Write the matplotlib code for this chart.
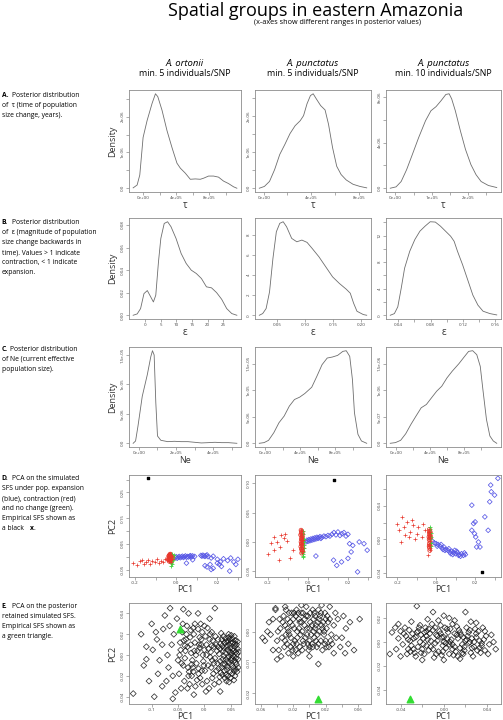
import matplotlib
matplotlib.use('Agg')
import matplotlib.pyplot as plt
import numpy as np

plt.rcParams['font.family'] = ['Open Sans', 'DejaVu Sans']

W, H = 503, 720

# ---------------- data ----------------
# row A: posterior of tau
tau_ort_x = [-1.2e5, -0.72e5, -0.40e5, 0.0, 0.48e5, 1.08e5, 1.49e5, 1.77e5, 2.28e5, 2.88e5,
             3.49e5, 4.08e5, 4.49e5, 5.09e5, 5.69e5, 6.29e5, 6.89e5, 7.29e5, 7.89e5, 8.49e5,
             9.09e5, 9.69e5, 1.03e6, 1.09e6, 1.13e6]
tau_ort_y = [0.01e-6, 0.09e-6, 0.37e-6, 1.42e-6, 1.89e-6, 2.37e-6, 2.64e-6, 2.56e-6, 2.18e-6, 1.61e-6,
             1.13e-6, 0.70e-6, 0.56e-6, 0.42e-6, 0.25e-6, 0.26e-6, 0.25e-6, 0.28e-6, 0.34e-6, 0.34e-6,
             0.31e-6, 0.20e-6, 0.13e-6, 0.04e-6, 0.0]
tau_p5_x = [-0.37e5, 0.06e5, 0.49e5, 0.92e5, 1.35e5, 1.78e5, 2.21e5, 2.64e5, 3.07e5, 3.35e5,
            3.64e5, 3.93e5, 4.16e5, 4.42e5, 4.79e5, 5.16e5, 5.45e5, 5.79e5, 6.14e5, 6.51e5,
            6.94e5, 7.51e5, 8.09e5, 8.66e5]
tau_p5_y = [0.0, 0.05e-6, 0.19e-6, 0.52e-6, 0.94e-6, 1.22e-6, 1.52e-6, 1.74e-6, 1.88e-6, 2.02e-6,
            2.35e-6, 2.58e-6, 2.63e-6, 2.49e-6, 2.30e-6, 2.18e-6, 1.78e-6, 1.13e-6, 0.61e-6, 0.38e-6,
            0.23e-6, 0.11e-6, 0.05e-6, 0.01e-6]
tau_p10_x = [-0.14e5, 0.02e5, 0.16e5, 0.31e5, 0.45e5, 0.64e5, 0.83e5, 0.98e5, 1.12e5, 1.26e5,
             1.39e5, 1.48e5, 1.55e5, 1.65e5, 1.79e5, 1.93e5, 2.08e5, 2.22e5, 2.36e5, 2.56e5, 2.79e5]
tau_p10_y = [0.0, 0.12e-6, 0.59e-6, 1.63e-6, 2.81e-6, 4.44e-6, 5.93e-6, 6.81e-6, 7.17e-6, 7.70e-6,
             8.24e-6, 8.30e-6, 7.85e-6, 6.81e-6, 5.04e-6, 3.41e-6, 2.07e-6, 1.19e-6, 0.59e-6, 0.24e-6, 0.06e-6]

# row B: posterior of epsilon
eps_ort_x = [-3.77, -2.48, -1.40, -0.32, 0.75, 1.83, 2.69, 3.45, 4.31, 5.06, 6.14, 7.22, 8.30,
             9.91, 11.53, 13.15, 14.76, 16.38, 18.00, 19.61, 21.23, 22.84, 24.46, 26.08, 27.69, 29.31]
eps_ort_y = [0.0, 0.0012, 0.0059, 0.0192, 0.0219, 0.0163, 0.0118, 0.0178, 0.0474, 0.0681, 0.0814,
             0.0829, 0.0785, 0.0681, 0.0548, 0.0459, 0.0400, 0.0370, 0.0326, 0.0252, 0.0243, 0.0201,
             0.0142, 0.0059, 0.0015, 0.0]
eps_p5_x = [0.0183, 0.0244, 0.0305, 0.0366, 0.0427, 0.0488, 0.0549, 0.0610, 0.0671, 0.0762, 0.0854,
            0.0945, 0.1037, 0.1128, 0.1250, 0.1372, 0.1494, 0.1616, 0.1738, 0.1810, 0.1870, 0.1930,
            0.2043, 0.2104]
eps_p5_y = [0.0, 0.17, 0.67, 2.33, 5.67, 8.33, 9.17, 9.33, 8.83, 7.67, 7.33, 7.50, 7.27, 6.67, 5.83,
            4.83, 3.83, 3.17, 2.60, 2.20, 1.20, 0.40, 0.07, 0.0]
eps_p10_x = [0.0303, 0.0354, 0.0396, 0.0438, 0.0480, 0.0543, 0.0606, 0.0669, 0.0733, 0.0796, 0.0859,
             0.0922, 0.0985, 0.1048, 0.1091, 0.1133, 0.1196, 0.1259, 0.1322, 0.1385, 0.1448, 0.1533, 0.1617]
eps_p10_y = [0.0, 0.25, 1.27, 4.05, 7.09, 9.62, 11.39, 12.66, 13.42, 14.08, 14.03, 13.42, 12.66, 11.90,
             11.14, 9.62, 7.59, 5.32, 3.04, 1.52, 0.61, 0.25, 0.05]

# row C: posterior of Ne
ne_ort_x = [-0.31e5, -0.18e5, -0.05e5, 0.18e5, 0.45e5, 0.64e5, 0.73e5, 0.82e5, 0.91e5, 1.0e5, 1.18e5,
            1.55e5, 1.91e5, 2.27e5, 2.64e5, 3.0e5, 3.36e5, 3.73e5, 4.09e5, 4.45e5, 4.82e5, 5.27e5]
ne_ort_y = [0.0, 0.39e-6, 2.92e-6, 7.98e-6, 11.63e-6, 14.72e-6, 15.73e-6, 15.0e-6, 6.85e-6, 1.24e-6,
            0.51e-6, 0.28e-6, 0.34e-6, 0.28e-6, 0.28e-6, 0.17e-6, 0.06e-6, 0.11e-6, 0.17e-6, 0.11e-6,
            0.11e-6, 0.0]
ne_p5_x = [-0.67e5, -0.12e5, 0.39e5, 0.99e5, 1.58e5, 2.17e5, 2.76e5, 3.35e5, 3.94e5, 4.53e5, 5.32e5,
           5.91e5, 6.50e5, 7.09e5, 7.68e5, 8.28e5, 8.87e5, 9.26e5, 9.66e5, 9.97e5, 1.02e6, 1.06e6,
           1.10e6, 1.16e6]
ne_p5_y = [0.0, 0.13e-6, 0.56e-6, 2.0e-6, 3.88e-6, 5.13e-6, 7.0e-6, 8.25e-6, 8.69e-6, 9.38e-6, 10.56e-6,
           12.63e-6, 14.81e-6, 16.06e-6, 16.25e-6, 16.56e-6, 17.31e-6, 17.44e-6, 16.38e-6, 12.0e-6,
           5.75e-6, 1.69e-6, 0.44e-6, 0.0]
ne_p10_x = [-0.69e5, -0.08e5, 0.53e5, 1.13e5, 1.74e5, 2.34e5, 2.95e5, 3.56e5, 4.16e5, 4.77e5, 5.37e5,
            5.98e5, 6.59e5, 7.39e5, 8.0e5, 8.53e5, 9.01e5, 9.49e5, 9.9e5, 1.022e6, 1.063e6, 1.103e6,
            1.143e6, 1.184e6]
ne_p10_y = [0.0, 0.013e-6, 0.056e-6, 0.18e-6, 0.356e-6, 0.513e-6, 0.669e-6, 0.731e-6, 0.856e-6,
            0.981e-6, 1.075e-6, 1.231e-6, 1.356e-6, 1.5e-6, 1.625e-6, 1.731e-6, 1.744e-6, 1.669e-6,
            1.45e-6, 1.0e-6, 0.45e-6, 0.138e-6, 0.044e-6, 0.0]

# row D: PCA of simulated SFS (PC1, PC2)
d1_red = [(-0.21, -0.025), (-0.19, -0.033), (-0.175, -0.018), (-0.165, -0.012), (-0.155, -0.03),
          (-0.145, -0.02), (-0.135, -0.012), (-0.125, -0.028), (-0.115, -0.016), (-0.105, -0.022),
          (-0.095, -0.01), (-0.085, -0.025), (-0.075, -0.015), (-0.065, -0.02), (-0.055, -0.008)]
d1_red_core = [(-0.035, -0.005), (-0.03, 0.0), (-0.025, -0.01), (-0.032, 0.005), (-0.028, -0.015),
               (-0.022, -0.003), (-0.038, -0.012), (-0.026, 0.007), (-0.033, -0.018), (-0.02, 0.002),
               (-0.03, -0.007), (-0.024, -0.02), (-0.036, 0.002), (-0.028, 0.01), (-0.018, -0.008),
               (-0.034, -0.009), (-0.027, -0.004), (-0.031, 0.008), (-0.023, -0.014), (-0.029, 0.003)]
d1_green = [(-0.025, -0.025), (-0.02, -0.03), (-0.022, 0.012), (-0.018, -0.018), (-0.015, 0.0),
            (-0.02, 0.008), (-0.016, -0.012), (-0.024, -0.035), (-0.012, 0.005), (-0.019, -0.005)]
d1_blue = [(-0.005, -0.004), (0.0, 0.0), (0.005, -0.006), (0.01, -0.002), (0.015, 0.001), (0.02, -0.004),
           (0.025, -0.001), (0.03, 0.002), (0.035, -0.003), (0.04, 0.0), (0.045, 0.003), (0.05, -0.002),
           (0.055, 0.001), (0.06, -0.001), (0.065, 0.002), (0.07, 0.004), (0.075, -0.001), (0.08, 0.003),
           (0.09, 0.001), (0.12, 0.005), (0.125, 0.002), (0.13, 0.006), (0.135, 0.003), (0.14, 0.001),
           (0.145, 0.004), (0.15, 0.007), (0.155, 0.0), (0.17, -0.005), (0.18, 0.002), (0.2, -0.01),
           (0.215, -0.02), (0.23, -0.008), (0.25, -0.015), (0.265, -0.005), (0.28, -0.02), (0.3, -0.01),
           (0.14, -0.035), (0.15, -0.04), (0.165, -0.03), (0.18, -0.045), (0.2, -0.025), (0.22, -0.038),
           (0.26, -0.056), (0.17, -0.05), (0.05, -0.025), (0.21, -0.03), (0.29, -0.03), (0.08, -0.012)]
d1_emp = (-0.138, 0.305)

d2_red = [(-0.2, -0.02), (-0.184, -0.002), (-0.168, 0.0085), (-0.155, 0.0), (-0.139, -0.0085),
          (-0.12, 0.006), (-0.104, 0.002), (-0.168, -0.014), (-0.144, -0.03), (-0.088, -0.028),
          (-0.075, -0.014), (-0.112, 0.013), (-0.136, 0.011)]
d2_red_core = [(-0.034, 0.0), (-0.03, 0.008), (-0.028, -0.006), (-0.032, -0.012), (-0.026, 0.003),
               (-0.036, 0.012), (-0.03, -0.002), (-0.027, 0.014), (-0.033, 0.005), (-0.029, -0.015),
               (-0.031, 0.018), (-0.035, -0.008), (-0.025, -0.01), (-0.028, 0.01), (-0.034, 0.02),
               (-0.032, -0.004), (-0.029, 0.004), (-0.026, -0.016), (-0.033, 0.015), (-0.031, -0.019)]
d2_green = [(-0.025, -0.02), (-0.022, -0.024), (-0.02, 0.005), (-0.023, 0.013), (-0.021, -0.01),
            (-0.024, -0.017), (-0.019, 0.0), (-0.022, 0.018), (-0.026, -0.025), (-0.02, -0.005)]
d2_blue = [(-0.01, 0.0), (-0.005, 0.003), (0.0, 0.001), (0.005, 0.004), (0.01, 0.002), (0.015, 0.005),
           (0.02, 0.003), (0.025, 0.006), (0.03, 0.004), (0.035, 0.007), (0.04, 0.005), (0.045, 0.008),
           (0.05, 0.006), (0.055, 0.007), (0.06, 0.009), (0.065, 0.006), (0.07, 0.008), (0.08, 0.01),
           (0.09, 0.009), (0.1, 0.011), (0.11, 0.01), (0.12, 0.013), (0.13, 0.016), (0.14, 0.012),
           (0.15, 0.017), (0.16, 0.011), (0.17, 0.014), (0.18, 0.016), (0.19, 0.01), (0.2, 0.013),
           (0.208, -0.003), (0.224, -0.006), (0.256, 0.0), (0.28, -0.003), (0.296, -0.014),
           (0.128, -0.031), (0.144, -0.04), (0.2, -0.028), (0.216, -0.017), (0.248, -0.051),
           (0.04, -0.024), (0.168, -0.034)]
d2_emp = (0.131, 0.106)

d3_red = [(-0.2, 0.019), (-0.175, 0.027), (-0.192, 0.011), (-0.167, 0.015), (-0.15, 0.021),
          (-0.133, 0.009), (-0.142, 0.003), (-0.117, 0.017), (-0.1, 0.007), (-0.092, 0.015),
          (-0.075, 0.003), (-0.183, -0.003), (-0.158, 0.005), (-0.108, 0.001), (-0.058, 0.011),
          (-0.067, 0.019), (-0.042, -0.019), (-0.125, 0.023)]
d3_red_core = [(-0.036, 0.0), (-0.033, 0.005), (-0.035, -0.005), (-0.031, 0.009), (-0.034, -0.01),
               (-0.037, 0.003), (-0.032, -0.002), (-0.035, 0.012), (-0.033, -0.013), (-0.03, 0.002),
               (-0.036, -0.008), (-0.034, 0.007), (-0.032, -0.007), (-0.035, 0.009), (-0.031, 0.004)]
d3_green = [(-0.03, 0.012), (-0.028, 0.008), (-0.029, -0.004), (-0.027, 0.003), (-0.031, 0.015),
            (-0.028, -0.008), (-0.03, 0.0)]
d3_blue = [(-0.02, -0.002), (-0.01, -0.004), (0.0, -0.005), (0.01, -0.006), (0.02, -0.008), (0.03, -0.01),
           (0.04, -0.009), (0.05, -0.012), (0.06, -0.013), (0.07, -0.015), (0.08, -0.014), (0.09, -0.016),
           (0.1, -0.017), (0.11, -0.016), (0.12, -0.018), (0.13, -0.017), (0.14, -0.019), (0.15, -0.018),
           (0.005, -0.008), (0.025, -0.006), (0.045, -0.013), (0.065, -0.011), (0.085, -0.018),
           (0.105, -0.014), (0.125, -0.02), (0.145, -0.016), (0.035, -0.012), (0.075, -0.017),
           (0.115, -0.019), (0.095, -0.013),
           (0.183, 0.011), (0.197, 0.007), (0.203, 0.003), (0.192, 0.019), (0.183, 0.041), (0.208, -0.009),
           (0.225, -0.009), (0.25, 0.027), (0.275, 0.045), (0.267, 0.011), (0.283, 0.057), (0.3, 0.053),
           (0.317, 0.073), (0.28, 0.065), (0.2, 0.021), (0.217, -0.003)]
d3_emp = (0.233, -0.0388)

# row E: PCA of posterior retained SFS (PC1, PC2)
e1_cloud = [(0.050, 0.000), (0.055, 0.004), (0.060, -0.003), (0.045, -0.006), (0.052, -0.010), (0.058, 0.008),
            (0.040, 0.002), (0.047, 0.010), (0.062, 0.001), (0.035, -0.004), (0.043, -0.014), (0.056, -0.015),
            (0.030, 0.006), (0.038, 0.012), (0.025, -0.008), (0.033, -0.012), (0.048, 0.015), (0.061, -0.009),
            (0.054, 0.012), (0.028, 0.001), (0.041, -0.019), (0.050, -0.022), (0.036, 0.018), (0.022, 0.010),
            (0.063, 0.006), (0.044, 0.005), (0.057, -0.005), (0.031, -0.017), (0.046, -0.002), (0.053, -0.018),
            (0.020, -0.003), (0.039, -0.009), (0.059, 0.014), (0.026, 0.015), (0.049, 0.007), (0.064, -0.012),
            (0.034, 0.009), (0.042, -0.025), (0.051, 0.019), (0.029, -0.021), (0.055, -0.001), (0.047, -0.008),
            (0.060, 0.003), (0.037, -0.001), (0.045, 0.013), (0.024, 0.004), (0.058, -0.020), (0.032, 0.021),
            (0.052, 0.002), (0.040, 0.016),
            (0.044, -0.011), (0.058, 0.011), (0.036, 0.004), (0.062, -0.016), (0.049, -0.016), (0.027, -0.013),
            (0.053, 0.016), (0.039, -0.022), (0.065, 0.003), (0.033, 0.015), (0.046, 0.020), (0.056, -0.024),
            (0.030, -0.006), (0.043, 0.008), (0.061, 0.010), (0.051, -0.005), (0.037, 0.007), (0.023, -0.015),
            (0.048, 0.003), (0.059, -0.007), (0.041, -0.004), (0.054, 0.006), (0.034, -0.019), (0.064, -0.004),
            (0.026, 0.008), (0.045, -0.020), (0.057, 0.018), (0.031, 0.011), (0.050, 0.012), (0.038, -0.015),
            (0.063, 0.013), (0.047, -0.026), (0.021, 0.018), (0.055, -0.012), (0.042, 0.013), (0.060, -0.014),
            (0.035, -0.009), (0.052, -0.003), (0.028, -0.026), (0.046, 0.017),
            (-0.045, 0.005), (-0.040, -0.010), (-0.035, 0.015), (-0.030, -0.020), (-0.025, 0.002), (-0.020, 0.020),
            (-0.015, -0.008), (-0.010, 0.010), (-0.005, -0.015), (0.000, 0.005), (0.005, -0.025), (0.010, 0.015),
            (0.015, -0.005), (-0.048, -0.018), (-0.042, 0.022), (-0.037, -0.003), (-0.032, 0.008), (-0.028, -0.028),
            (-0.022, -0.012), (-0.018, 0.012), (-0.012, 0.025), (-0.008, -0.022), (-0.003, 0.000), (0.002, 0.018),
            (0.007, -0.010), (0.012, 0.003), (0.017, -0.018), (-0.046, 0.012), (-0.038, -0.025), (-0.033, 0.028),
            (-0.027, 0.017), (-0.023, -0.005), (-0.017, -0.030), (-0.013, 0.004), (-0.007, 0.030), (-0.002, -0.006),
            (0.004, 0.010), (0.009, -0.032), (0.014, 0.022), (0.018, 0.008), (-0.050, -0.005), (-0.044, -0.032),
            (-0.031, -0.012), (-0.026, 0.010), (-0.016, 0.000), (-0.011, -0.018), (-0.006, 0.015), (0.001, -0.015),
            (0.006, 0.026), (0.011, -0.002), (0.016, 0.014), (0.019, -0.028), (-0.036, 0.004), (-0.021, 0.026),
            (-0.009, 0.007), (0.003, -0.035), (0.013, -0.012), (-0.041, 0.030), (-0.024, -0.020), (-0.004, 0.022),
            (-0.043, -0.008), (-0.034, 0.020), (-0.029, -0.016), (-0.019, 0.004), (-0.014, -0.024), (-0.009, 0.017),
            (-0.001, -0.010), (0.008, 0.006), (0.015, -0.022), (-0.047, 0.000), (-0.039, 0.014), (-0.024, -0.009),
            (-0.018, 0.030), (-0.004, -0.028), (0.004, 0.000), (0.011, 0.020), (-0.032, -0.032), (-0.026, 0.024),
            (-0.011, -0.013), (0.018, -0.008), (-0.037, 0.009), (-0.006, 0.010), (0.000, 0.028), (-0.021, -0.016),
            (0.014, 0.009),
            (-0.135, -0.037), (-0.120, 0.020), (-0.115, -0.010), (-0.110, 0.008), (-0.105, -0.025), (-0.100, 0.030),
            (-0.095, -0.040), (-0.090, 0.015), (-0.085, -0.005), (-0.080, -0.030), (-0.075, 0.038), (-0.070, 0.000),
            (-0.065, 0.045), (-0.060, -0.020), (-0.058, 0.020), (-0.055, -0.036), (-0.052, 0.035), (-0.062, 0.010),
            (-0.068, -0.012), (-0.078, 0.025), (-0.088, -0.018), (-0.098, 0.005), (-0.012, 0.040), (0.010, 0.035),
            (-0.030, 0.040), (0.020, 0.045), (-0.020, -0.038), (0.030, -0.035), (-0.040, 0.044), (-0.060, -0.042),
            (-0.080, 0.010), (-0.072, -0.025), (-0.092, 0.022), (-0.110, -0.004), (-0.066, 0.028)]
e1_emp = (-0.047, 0.025)

e2_cloud = [(-0.030, 0.002), (-0.025, -0.001), (-0.020, 0.004), (-0.015, 0.000), (-0.010, 0.003), (-0.005, -0.002),
            (0.000, 0.001), (0.005, 0.004), (0.010, -0.001), (0.015, 0.002), (0.020, -0.003), (-0.028, -0.004),
            (-0.022, 0.006), (-0.018, -0.003), (-0.012, -0.005), (-0.008, 0.006), (-0.002, 0.005), (0.003, -0.004),
            (0.008, 0.002), (0.013, 0.005), (0.018, -0.001), (0.023, 0.003), (-0.032, 0.005), (-0.027, 0.001),
            (-0.021, -0.006), (-0.016, 0.007), (-0.011, -0.001), (-0.006, 0.002), (-0.001, -0.006), (0.004, 0.007),
            (0.009, -0.005), (0.014, -0.003), (0.019, 0.006), (0.024, -0.005), (-0.034, -0.002), (-0.029, 0.007),
            (-0.024, 0.003), (-0.019, 0.001), (-0.014, -0.007), (-0.009, 0.000), (-0.004, 0.008), (0.001, 0.003),
            (0.006, -0.002), (0.011, 0.007), (0.016, -0.006), (0.021, 0.001), (-0.026, -0.007), (-0.017, 0.005),
            (-0.007, -0.004), (0.002, -0.001), (0.012, 0.000), (0.022, 0.005), (-0.031, -0.005), (-0.023, -0.002),
            (-0.013, 0.004), (-0.003, 0.001), (0.007, 0.005), (0.017, 0.003), (0.027, -0.001), (-0.020, -0.004),
            (-0.010, 0.006), (0.000, -0.003), (0.010, 0.003), (-0.036, 0.001), (0.030, 0.002), (0.028, -0.004),
            (-0.015, -0.002), (0.005, 0.000),
            (-0.027, 0.004), (-0.023, -0.005), (-0.019, 0.006), (-0.016, -0.004), (-0.013, 0.001), (-0.009, -0.006),
            (-0.006, 0.004), (-0.003, -0.001), (0.001, 0.006), (0.004, -0.005), (0.007, 0.001), (0.011, -0.004),
            (0.014, 0.006), (0.018, 0.000), (0.021, -0.005), (0.025, 0.004), (-0.033, 0.003), (-0.029, -0.001),
            (-0.025, 0.006), (-0.021, 0.002), (-0.017, -0.006), (-0.012, 0.003), (-0.008, -0.003), (-0.004, 0.005),
            (0.000, -0.005), (0.003, 0.002), (0.008, -0.003), (0.012, 0.004), (0.016, 0.001), (0.020, 0.004),
            (0.026, -0.003), (-0.030, -0.003), (-0.026, 0.000), (-0.014, 0.006), (-0.002, -0.004), (0.006, 0.006),
            (0.019, -0.004), (-0.037, 0.004), (0.033, -0.002), (-0.039, 0.000),
            (-0.045, 0.004), (-0.040, -0.003), (-0.042, 0.007), (-0.038, -0.006), (0.035, 0.004), (0.040, -0.002),
            (0.032, 0.006), (0.038, -0.005), (0.045, 0.001), (0.042, 0.005), (-0.048, -0.001), (0.048, -0.004),
            (-0.055, -0.003), (-0.058, -0.002), (-0.050, 0.003), (-0.045, -0.006), (-0.040, -0.009), (0.011, -0.0105),
            (0.055, -0.006), (0.062, 0.004), (-0.042, 0.0075), (-0.035, -0.008), (0.030, -0.007), (0.025, 0.008),
            (-0.010, 0.0085), (0.000, -0.008), (-0.030, 0.008), (0.015, 0.0085), (-0.020, -0.008), (0.050, 0.003),
            (-0.052, 0.0), (0.044, -0.007)]
e2_emp = (0.011, -0.0219)

e3_cloud = [(-0.035, 0.005), (-0.030, -0.003), (-0.025, 0.008), (-0.020, -0.006), (-0.015, 0.002), (-0.010, 0.010),
            (-0.005, -0.008), (0.000, 0.004), (0.005, -0.002), (0.010, 0.007), (0.015, -0.005), (0.020, 0.001),
            (0.025, -0.009), (0.030, 0.004), (0.035, -0.003), (-0.032, 0.010), (-0.027, -0.009), (-0.022, 0.000),
            (-0.017, 0.012), (-0.012, -0.004), (-0.007, 0.006), (-0.002, -0.011), (0.003, 0.011), (0.008, -0.006),
            (0.013, 0.003), (0.018, -0.010), (0.023, 0.008), (0.028, -0.004), (0.033, 0.001), (0.038, -0.007),
            (-0.038, -0.002), (-0.033, -0.006), (-0.028, 0.003), (-0.023, 0.012), (-0.018, -0.010), (-0.013, 0.007),
            (-0.008, -0.001), (-0.003, 0.014), (0.002, -0.005), (0.007, 0.002), (0.012, 0.013), (0.017, -0.002),
            (0.022, 0.005), (0.027, -0.012), (0.032, 0.009), (0.037, 0.002), (-0.036, 0.012), (-0.031, 0.001),
            (-0.026, -0.012), (-0.021, 0.006), (-0.016, -0.003), (-0.011, 0.015), (-0.006, 0.001), (-0.001, -0.003),
            (0.004, 0.008), (0.009, -0.011), (0.014, 0.010), (0.019, -0.007), (0.024, 0.000), (0.029, 0.011),
            (0.034, -0.009), (0.039, 0.005), (-0.024, -0.004), (-0.014, -0.007), (-0.004, 0.009), (0.006, 0.000),
            (0.016, 0.006), (0.026, 0.003), (-0.029, 0.007), (-0.019, 0.003), (-0.009, -0.013), (0.001, 0.012),
            (0.011, -0.008), (0.021, 0.012), (0.031, -0.007), (-0.034, -0.010), (-0.002, 0.004), (0.008, 0.015),
            (-0.016, 0.009), (0.018, 0.004),
            (-0.033, 0.002), (-0.028, -0.006), (-0.024, 0.009), (-0.019, -0.002), (-0.014, 0.011), (-0.010, -0.006),
            (-0.006, 0.005), (-0.001, -0.008), (0.003, 0.003), (0.008, -0.002), (0.012, 0.006), (0.017, -0.009),
            (0.021, 0.002), (0.026, -0.005), (0.030, 0.007), (0.035, -0.001), (-0.037, 0.007), (-0.031, -0.008),
            (-0.026, 0.004), (-0.021, -0.009), (-0.016, 0.005), (-0.012, 0.001), (-0.007, -0.010), (-0.003, 0.007),
            (0.002, -0.001), (0.006, 0.011), (0.010, -0.004), (0.015, 0.008), (0.019, -0.004), (0.024, 0.010),
            (0.028, 0.000), (0.033, -0.005), (0.038, 0.009), (-0.022, 0.014), (-0.008, 0.012), (0.005, -0.010),
            (0.013, -0.012), (0.023, -0.001), (-0.018, 0.008), (0.000, 0.000),
            (-0.042, 0.003), (-0.044, -0.006), (-0.040, 0.009), (0.042, -0.002), (0.044, 0.006), (0.041, -0.010),
            (-0.048, 0.008), (-0.050, -0.010), (-0.045, 0.012), (0.046, 0.000), (0.048, -0.006), (-0.025, 0.030),
            (0.020, 0.025), (-0.010, 0.025), (0.005, 0.020), (-0.015, 0.019), (0.010, 0.018), (0.030, 0.016),
            (-0.030, 0.017), (-0.020, -0.015), (0.000, -0.015), (0.015, -0.014), (-0.005, 0.018), (0.025, 0.017),
            (0.036, 0.012), (-0.040, -0.012), (0.000, 0.022), (-0.042, 0.015)]
e3_emp = (-0.031, -0.048)

# column headers and row descriptions
species = ['A. ortonii', 'A. punctatus', 'A. punctatus']
filters = ['min. 5 individuals/SNP', 'min. 5 individuals/SNP', 'min. 10 individuals/SNP']
row_tags = ['A.', 'B.', 'C.', 'D.', 'E.']
row_text = [
    ['Posterior distribution', 'of  \u03c4 (time of population', 'size change, years).'],
    ['Posterior distribution', 'of  \u03b5 (magnitude of population', 'size change backwards in',
     'time). Values > 1 indicate', 'contraction, < 1 indicate', 'expansion.'],
    ['Posterior distribution', 'of Ne (current effective', 'population size).'],
    ['PCA on the simulated', 'SFS under pop. expansion', '(blue), contraction (red)',
     'and no change (green).', 'Empirical SFS shown as', 'a black'],
    ['PCA on the posterior', 'retained simulated SFS.', 'Empirical SFS shown as', 'a green triangle.'],
]
row_text_y = [95.7, 222.7, 349.3, 479, 606]

# ---------------- layout ----------------
col_px = [(129, 241), (255, 371), (386, 501)]
row_px = [(90, 192), (218, 319), (347, 447), (475, 577), (603, 704)]

LINE = '#6e6e6e'
FRAME = '#8c8c8c'
TICKTXT = '#444444'

fig = plt.figure(figsize=(W / 100, H / 100), dpi=100)


def fx(px):
    return px / W


def fy(py):
    return 1 - py / H


def make_ax(row, col):
    l, r = col_px[col]
    t, b = row_px[row]
    ax = fig.add_axes([fx(l), fy(b), (r - l) / W, (b - t) / H])
    for s in ax.spines.values():
        s.set_color(FRAME)
        s.set_linewidth(0.6)
    ax.tick_params(direction='out', length=2, width=0.5, color=FRAME,
                   labelsize=3.2, labelcolor=TICKTXT, pad=0.9)
    return ax


def set_ticks(ax, xt, xl, yt, yl):
    ax.set_xticks(xt)
    ax.set_xticklabels(xl)
    ax.set_yticks(yt)
    ax.set_yticklabels(yl, rotation=90, va='center')


def xlab(row, col, s, size=6.5, off=13):
    l, r = col_px[col]
    fig.text(fx((l + r) / 2), fy(row_px[row][1] + off), s, ha='center', va='center',
             fontsize=size, color='#333333')


def ylab(row, s):
    t, b = row_px[row]
    fig.text(fx(113), fy((t + b) / 2), s, ha='center', va='center', rotation=90,
             fontsize=6.5, color='#333333')


# density rows
dens = [
    [(tau_ort_x, tau_ort_y), (tau_p5_x, tau_p5_y), (tau_p10_x, tau_p10_y)],
    [(eps_ort_x, eps_ort_y), (eps_p5_x, eps_p5_y), (eps_p10_x, eps_p10_y)],
    [(ne_ort_x, ne_ort_y), (ne_p5_x, ne_p5_y), (ne_p10_x, ne_p10_y)],
]
dens_ticks = [
    [([0, 2e5, 4e5, 6e5, 8e5, 1e6], ['0e+00', '', '4e+05', '', '8e+05', ''],
      [0, 0.5e-6, 1e-6, 1.5e-6, 2e-6, 2.5e-6], ['0.0', '', '1e-06', '', '2e-06', '']),
     ([0, 2e5, 4e5, 6e5, 8e5], ['0e+00', '', '4e+05', '', '8e+05'],
      [0, 0.5e-6, 1e-6, 1.5e-6, 2e-6, 2.5e-6], ['0.0', '', '1e-06', '', '2e-06', '']),
     ([0, 0.5e5, 1e5, 1.5e5, 2e5, 2.5e5], ['0e+00', '', '1e+05', '', '2e+05', ''],
      [0, 2e-6, 4e-6, 6e-6, 8e-6], ['0.0', '', '4e-06', '', '8e-06'])],
    [([0, 5, 10, 15, 20, 25], ['0', '5', '10', '15', '20', '25'],
      [0, 0.02, 0.04, 0.06, 0.08], ['0.00', '0.02', '0.04', '0.06', '0.08']),
     ([0.05, 0.10, 0.15, 0.20], ['0.05', '0.10', '0.15', '0.20'],
      [0, 2, 4, 6, 8], ['0', '2', '4', '6', '8']),
     ([0.04, 0.06, 0.08, 0.10, 0.12, 0.14, 0.16], ['0.04', '', '0.08', '', '0.12', '', '0.16'],
      [0, 2, 4, 6, 8, 10, 12, 14], ['0', '', '4', '', '8', '', '12', ''])],
    [([0, 1e5, 2e5, 3e5, 4e5, 5e5], ['0e+00', '', '2e+05', '', '4e+05', ''],
      [0, 5e-6, 1e-5, 1.5e-5], ['0.0', '5e-06', '1e-05', '1.5e-05']),
     ([0, 2e5, 4e5, 6e5, 8e5, 1e6], ['0e+00', '', '4e+05', '', '8e+05', ''],
      [0, 5e-6, 1e-5, 1.5e-5], ['0.0', '5e-06', '1e-05', '1.5e-05']),
     ([0, 2e5, 4e5, 6e5, 8e5, 1e6], ['0e+00', '', '4e+05', '', '8e+05', ''],
      [0, 5e-7, 1e-6, 1.5e-6], ['0.0', '5e-07', '1e-06', '1.5e-06'])],
]
dens_xlabels = ['\u03c4', '\u03b5', 'Ne']

for r in range(3):
    for c in range(3):
        ax = make_ax(r, c)
        x, y = dens[r][c]
        ax.plot(x, y, color=LINE, lw=0.6)
        ax.margins(x=0.04, y=0.04)
        set_ticks(ax, *dens_ticks[r][c])
        xlab(r, c, dens_xlabels[r], size=7 if r < 2 else 6.5, off=13.5)
    ylab(r, 'Density')

# PCA rows
RED, GREEN, BLUE = '#e8372c', '#3fd43f', '#5858e6'
d_sets = [(d1_red, d1_red_core, d1_green, d1_blue, d1_emp),
          (d2_red, d2_red_core, d2_green, d2_blue, d2_emp),
          (d3_red, d3_red_core, d3_green, d3_blue, d3_emp)]
d_lims = [((-0.229, 0.315), (-0.079, 0.318)),
          ((-0.264, 0.315), (-0.0597, 0.114)),
          ((-0.258, 0.333), (-0.0448, 0.077))]
d_ticks = [
    ([-0.2, -0.1, 0, 0.1, 0.2, 0.3], ['-0.2', '', '0.0', '', '0.2', ''],
     [-0.05, 0, 0.05, 0.1, 0.15, 0.2, 0.25, 0.3], ['-0.05', '', '0.05', '', '0.15', '', '0.25', '']),
    ([-0.2, -0.1, 0, 0.1, 0.2, 0.3], ['-0.2', '', '0.0', '', '0.2', ''],
     [-0.05, 0, 0.05, 0.1], ['-0.05', '0.00', '0.05', '0.10']),
    ([-0.2, -0.1, 0, 0.1, 0.2, 0.3], ['-0.2', '', '0.0', '', '0.2', ''],
     [-0.04, -0.02, 0, 0.02, 0.04, 0.06], ['-0.04', '', '0.00', '', '0.04', '']),
]
for c in range(3):
    red, core, green, blue, emp = d_sets[c]
    ax = make_ax(3, c)
    b = np.array(blue)
    ax.scatter(b[:, 0], b[:, 1], s=6, marker='D', facecolors='none', edgecolors=BLUE, linewidths=0.55)
    rr = np.array(red)
    ax.scatter(rr[:, 0], rr[:, 1], s=6, marker='+', color=RED, linewidths=0.5)
    cc = np.array(core)
    ax.scatter(cc[:, 0], cc[:, 1], s=8, marker='o', facecolors='none', edgecolors=RED, linewidths=0.55)
    g = np.array(green)
    ax.scatter(g[:, 0], g[:, 1], s=6, marker='+', color=GREEN, linewidths=0.6)
    ax.scatter(cc[:, 0], cc[:, 1], s=5, marker='+', color=RED, linewidths=0.5)
    ax.scatter([emp[0]], [emp[1]], s=4, marker='s', color='black')
    ax.set_xlim(*d_lims[c][0])
    ax.set_ylim(*d_lims[c][1])
    set_ticks(ax, *d_ticks[c])
    xlab(3, c, 'PC1', off=12.5)
ylab(3, 'PC2')

e_sets = [(e1_cloud, e1_emp), (e2_cloud, e2_emp), (e3_cloud, e3_emp)]
e_lims = [((-0.143, 0.0695), (-0.047, 0.050)),
          ((-0.0673, 0.076), (-0.0234, 0.0092)),
          ((-0.0535, 0.0529), (-0.0518, 0.0326))]
e_ticks = [
    ([-0.1, -0.05, 0, 0.05], ['-0.1', '-0.05', '0.0', '0.05'],
     [-0.04, -0.02, 0, 0.02, 0.04], ['-0.04', '-0.02', '0.00', '0.02', '0.04']),
    ([-0.06, -0.04, -0.02, 0, 0.02, 0.04, 0.06], ['-0.06', '', '-0.02', '', '0.02', '', '0.06'],
     [-0.02, -0.01, 0.0], ['-0.02', '-0.01', '0.00']),
    ([-0.04, -0.02, 0, 0.02, 0.04], ['-0.04', '', '0.00', '', '0.04'],
     [-0.04, -0.02, 0, 0.02], ['-0.04', '-0.02', '0.00', '0.02']),
]
for c in range(3):
    cloud, emp = e_sets[c]
    ax = make_ax(4, c)
    p = np.array(cloud)
    ax.scatter(p[:, 0], p[:, 1], s=9, marker='D', facecolors='none', edgecolors='#111111',
               linewidths=0.55, alpha=0.85)
    ax.scatter([emp[0]], [emp[1]], s=22, marker='^', color='#33dd33')
    ax.set_xlim(*e_lims[c][0])
    ax.set_ylim(*e_lims[c][1])
    set_ticks(ax, *e_ticks[c])
    xlab(4, c, 'PC1', off=12.5)
ylab(4, 'PC2')

# ---------------- text ----------------
fig.text(fx(316), fy(16), 'Spatial groups in eastern Amazonia', ha='center', va='baseline',
         fontsize=13)
fig.text(fx(338), fy(22.5), '(x-axes show different ranges in posterior values)', ha='center',
         va='center', fontsize=5.2)

for c in range(3):
    l, r = col_px[c]
    fig.text(fx((l + r) / 2), fy(63), species[c], ha='center', va='center', fontsize=6.8,
             style='italic')
    fig.text(fx((l + r) / 2), fy(73.3), filters[c], ha='center', va='center', fontsize=6.3)

tag_gap = [11, 11, 9, 11, 11]
for i in range(5):
    y0 = row_text_y[i]
    fig.text(fx(1.5), fy(y0), row_tags[i], ha='left', va='center', fontsize=4.9, weight='bold')
    for j, line in enumerate(row_text[i]):
        xoff = 1.5 + tag_gap[i] if j == 0 else 1.5
        fig.text(fx(xoff), fy(y0 + 10 * j), line, ha='left', va='center', fontsize=4.9)
# bold marker name at end of the D text
fig.text(fx(30), fy(row_text_y[3] + 50), 'x', ha='left', va='center', fontsize=4.9, weight='bold')
fig.text(fx(34), fy(row_text_y[3] + 50), '.', ha='left', va='center', fontsize=4.9)

fig.savefig('out.png', dpi=100)
